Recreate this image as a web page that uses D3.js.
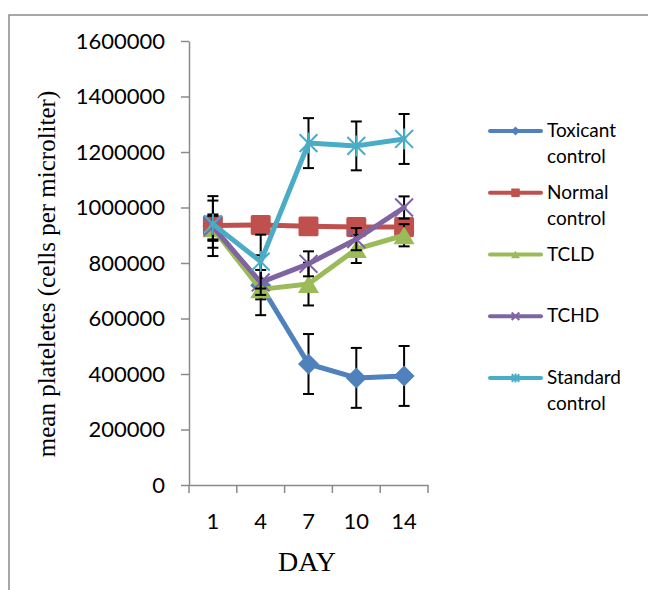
<!DOCTYPE html>
<html>
<head>
<meta charset="utf-8">
<script src="https://cdn.jsdelivr.net/npm/d3@7"></script>
<style>
  html, body { margin: 0; padding: 0; background: #fff; }
  svg { display: block; }
</style>
</head>
<body>
<div id="chart"></div>
<script>
// Chart data
const days = ['1', '4', '7', '10', '14'];
const seriesNames = [['Toxicant', 'control'], ['Normal', 'control'], ['TCLD'], ['TCHD'], ['Standard', 'control']];
const toxicant = [933000, 720000, 436000, 386000, 393000];
const toxicantErr = [108000, 108000, 108000, 108000, 108000];
const normal = [935000, 937000, 932000, 930000, 930000];
const normalErr = [20000, 20000, 20000, 20000, 20000];
const tcld = [925000, 705000, 724000, 850000, 900000];
const tcldErr = [45000, 36000, 77000, 50000, 40000];
const tchd = [930000, 730000, 797000, 886000, 1000000];
const tchdErr = [45000, 45000, 45000, 40000, 40000];
const standard = [940000, 805000, 1232000, 1222000, 1247000];
const standardErr = [85000, 97000, 90000, 88000, 90000];
const yTicks = [0, 200000, 400000, 600000, 800000, 1000000, 1200000, 1400000, 1600000];

const colors = ['#4F81BD', '#C0504D', '#9BBB59', '#8064A2', '#4BACC6'];
const markers = ['diamond', 'square', 'triangle', 'x', 'star'];

const series = [
    { values: toxicant, err: toxicantErr },
    { values: normal, err: normalErr },
    { values: tcld, err: tcldErr },
    { values: tchd, err: tchdErr },
    { values: standard, err: standardErr }
].map((s, i) => ({ ...s, name: seriesNames[i], color: colors[i], marker: markers[i] }));

const width = 648, height = 590;
const svg = d3.select('#chart').append('svg')
    .attr('width', width)
    .attr('height', height);

// outer frame (only top and left edges show)
svg.append('path')
    .attr('d', 'M9,600 L9,15 L660,15')
    .attr('fill', 'none')
    .attr('stroke', '#8a8a8a')
    .attr('stroke-width', 1.5);

const x = d3.scaleBand().domain(days).range([189, 428]).padding(0);
const y = d3.scaleLinear().domain([0, 1600000]).range([485, 41]);
const cx = d => x(d) + x.bandwidth() / 2;

const axisColor = '#8a8a8a';
const sans = 'Lato, "Open Sans", sans-serif';
const serif = '"Liberation Serif", "Times New Roman", serif';

// y axis
const yAxis = svg.append('g')
    .attr('transform', 'translate(189,0)')
    .call(d3.axisLeft(y).tickValues(yTicks).tickFormat(d3.format('d')).tickSizeInner(8).tickSizeOuter(0).tickPadding(16));
yAxis.select('.domain').attr('stroke', axisColor).attr('stroke-width', 1.5);
yAxis.selectAll('.tick line').attr('stroke', axisColor).attr('stroke-width', 1.5);
yAxis.selectAll('.tick text').attr('fill', '#000').style('font-family', sans).style('font-size', '22px');

// x axis
const xAxis = svg.append('g')
    .attr('transform', 'translate(0,485)')
    .call(d3.axisBottom(x).tickSizeInner(0).tickSizeOuter(0).tickPadding(28));
xAxis.select('.domain').attr('stroke', axisColor).attr('stroke-width', 1.5);
xAxis.selectAll('.tick text').attr('fill', '#000').style('font-family', sans).style('font-size', '22px');
// category tick marks sit between categories
xAxis.selectAll('line.cat-tick')
    .data(days.map(d => x(d)).concat([x.range()[1]]))
    .enter().append('line')
    .attr('class', 'cat-tick')
    .attr('x1', d => d).attr('x2', d => d)
    .attr('y1', 0).attr('y2', 8)
    .attr('stroke', axisColor)
    .attr('stroke-width', 1.5);

// axis titles
svg.append('text')
    .attr('transform', 'translate(55,274) rotate(-90)')
    .attr('text-anchor', 'middle')
    .style('font-family', serif)
    .style('font-size', '25px')
    .text('mean plateletes (cells per microliter)');

svg.append('text')
    .attr('x', 307)
    .attr('y', 571)
    .attr('text-anchor', 'middle')
    .style('font-family', serif)
    .style('font-size', '28px')
    .text('DAY');

// marker drawing
function drawMarker(g, type, color, s) {
    const h = s / 2;
    if (type === 'diamond') {
        g.append('path').attr('d', `M0,${-h}L${h},0L0,${h}L${-h},0Z`).attr('fill', color);
    } else if (type === 'square') {
        const q = h * 0.95;
        g.append('rect').attr('x', -q).attr('y', -q).attr('width', 2 * q).attr('height', 2 * q)
            .attr('rx', s * 0.08).attr('fill', color);
    } else if (type === 'triangle') {
        const t = h * 0.85;
        g.append('path').attr('d', `M0,${-t}L${h},${t}L${-h},${t}Z`).attr('fill', color);
    } else if (type === 'x') {
        const t = h * 0.85;
        g.append('path').attr('d', `M${-t},${-t}L${t},${t}M${-t},${t}L${t},${-t}`)
            .attr('stroke', color).attr('stroke-width', 2).attr('fill', 'none');
    } else if (type === 'star') {
        const t = h * 0.85;
        g.append('path').attr('d', `M${-t},${-t}L${t},${t}M${-t},${t}L${t},${-t}M0,${-h}L0,${h}`)
            .attr('stroke', color).attr('stroke-width', 2).attr('fill', 'none');
    }
}

const line = d3.line()
    .x(d => cx(d.day))
    .y(d => y(d.value));

const plot = svg.append('g');
series.forEach(s => {
    const pts = days.map((d, i) => ({ day: d, value: s.values[i], err: s.err[i] }));
    const g = plot.append('g');

    // error bars
    const eb = g.append('g').selectAll('g').data(pts).enter().append('g');
    eb.append('line')
        .attr('x1', d => cx(d.day)).attr('x2', d => cx(d.day))
        .attr('y1', d => y(d.value + d.err)).attr('y2', d => y(d.value - d.err))
        .attr('stroke', '#000').attr('stroke-width', 2);
    ['+', '-'].forEach(sign => {
        eb.append('line')
            .attr('x1', d => cx(d.day) - 5.5).attr('x2', d => cx(d.day) + 5.5)
            .attr('y1', d => y(sign === '+' ? d.value + d.err : d.value - d.err))
            .attr('y2', d => y(sign === '+' ? d.value + d.err : d.value - d.err))
            .attr('stroke', '#000').attr('stroke-width', 2);
    });

    g.append('path')
        .datum(pts)
        .attr('d', line)
        .attr('fill', 'none')
        .attr('stroke', s.color)
        .attr('stroke-width', 5)
        .attr('stroke-linejoin', 'round')
        .attr('stroke-linecap', 'round');

    g.append('g').selectAll('g').data(pts).enter().append('g')
        .attr('transform', d => `translate(${cx(d.day)},${y(d.value)})`)
        .each(function () { drawMarker(d3.select(this), s.marker, s.color, 21); });
});

// legend
const legendY = d3.scaleLinear().domain([0, 4]).range([131, 378]);
const legend = svg.append('g');
series.forEach((s, i) => {
    const ly = legendY(i);
    const g = legend.append('g').attr('transform', `translate(0,${ly})`);
    g.append('line')
        .attr('x1', 490).attr('x2', 541)
        .attr('y1', 0).attr('y2', 0)
        .attr('stroke', s.color)
        .attr('stroke-width', 4)
        .attr('stroke-linecap', 'round');
    const m = g.append('g').attr('transform', 'translate(515.5,0)');
    drawMarker(m, s.marker, s.color, 9);
    const t = g.append('text')
        .attr('x', 547)
        .attr('y', 6)
        .style('font-family', sans)
        .style('font-size', '19px')
        .attr('fill', '#000');
    s.name.forEach((nm, k) => {
        t.append('tspan').attr('x', 547).attr('dy', k === 0 ? 0 : 26).text(nm);
    });
});
</script>
</body>
</html>
